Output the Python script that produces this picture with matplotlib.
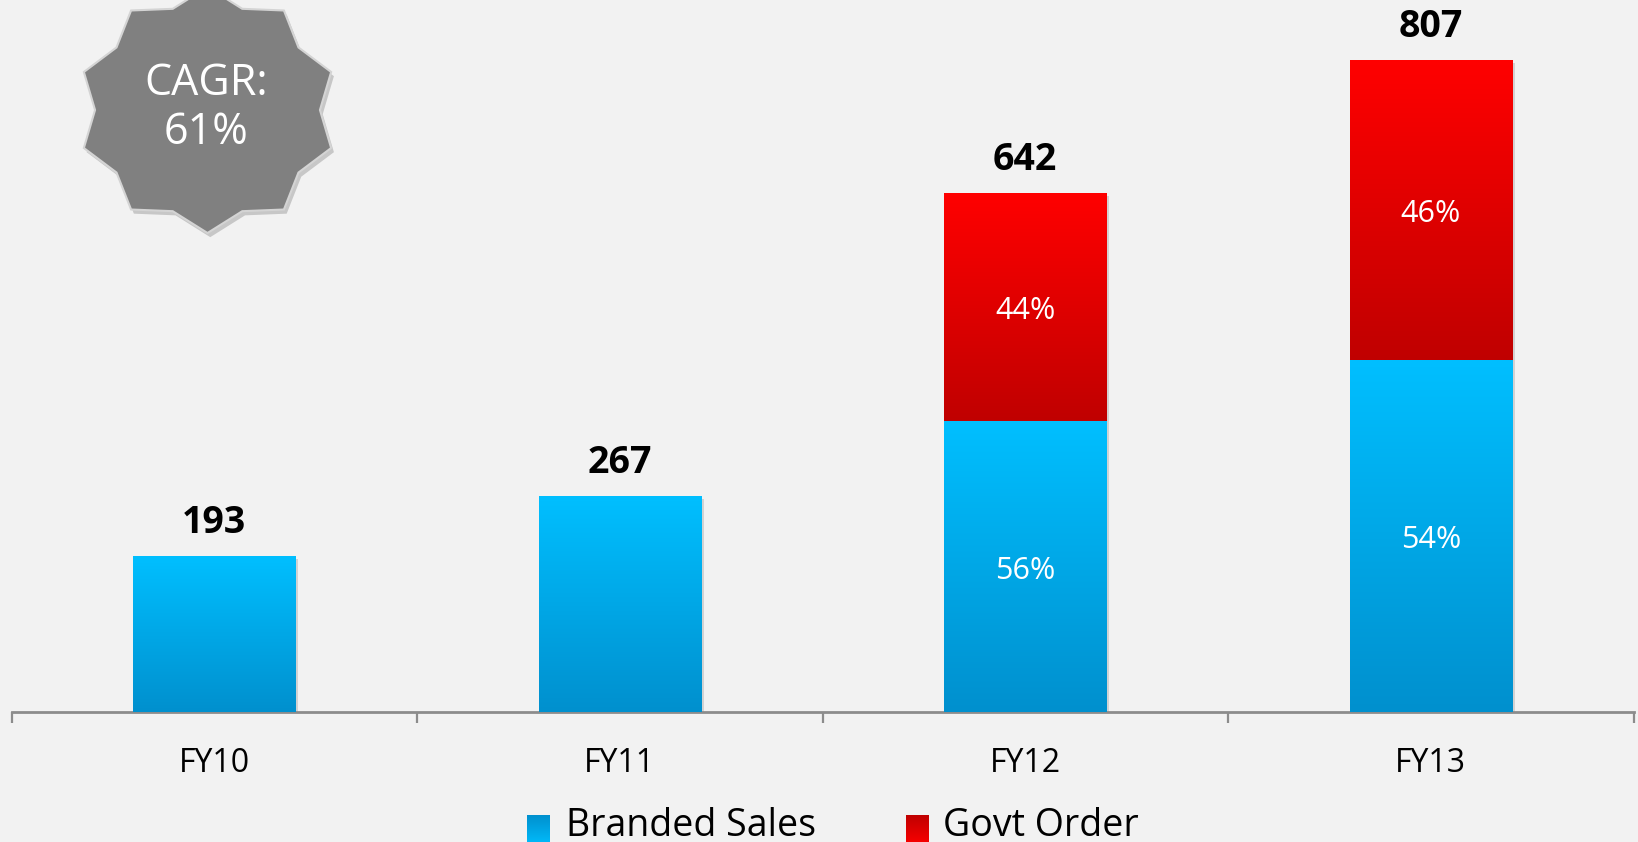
import numpy as np
import matplotlib
matplotlib.use("Agg")
import matplotlib.pyplot as plt
from matplotlib.colors import LinearSegmentedColormap
from matplotlib.patches import Polygon
import matplotlib.patheffects as pe
import matplotlib.transforms as mtransforms

# ---- data ----
categories = ["FY10", "FY11", "FY12", "FY13"]
totals = [193, 267, 642, 807]
branded = [193, 267, 359.5, 435.8]
govt = [0, 0, 282.5, 371.2]
branded_pct = ["", "", "56%", "54%"]
govt_pct = ["", "", "44%", "46%"]
series_names = ["Branded Sales", "Govt Order"]
badge_text = "CAGR:\n61%"

plt.rcParams['font.family'] = ['Open Sans', 'DejaVu Sans']

W, H = 1638, 842
DPI = 100
BG = "#F2F2F2"
fig = plt.figure(figsize=(W / DPI, H / DPI), dpi=DPI, facecolor=BG)

ax_left, ax_right, ax_bottom_px = 11.5, 1633.5, 712
ax = fig.add_axes([ax_left / W, (H - ax_bottom_px) / H, (ax_right - ax_left) / W, ax_bottom_px / H])
ax.set_facecolor(BG)
ax.set_xlim(-0.5, len(categories) - 0.5)
ax.set_ylim(0, 881)

blue_cmap = LinearSegmentedColormap.from_list("b", ["#0090CE", "#00BFFF"])
red_cmap = LinearSegmentedColormap.from_list("r", ["#C00000", "#FF0000"])
grad = np.linspace(0, 1, 256).reshape(-1, 1)

x = np.arange(len(categories))
width = 0.40
shadow = [pe.SimplePatchShadow(offset=(2, -2), shadow_rgbFace="#999999", alpha=0.35), pe.Normal()]

b1 = ax.bar(x, branded, width, color="#00AEEF", zorder=2)
b2 = ax.bar(x, govt, width, bottom=branded, color="#E00000", zorder=2)
for bars, cmap in ((b1, blue_cmap), (b2, red_cmap)):
    for p in bars:
        if p.get_height() <= 0:
            p.set_visible(False)
            continue
        p.set_path_effects(shadow)
        x0, y0 = p.get_x(), p.get_y()
        im = ax.imshow(grad, cmap=cmap, origin="lower", aspect="auto",
                       extent=[x0, x0 + p.get_width(), y0, y0 + p.get_height()],
                       zorder=3, interpolation="bilinear")
        im.set_clip_path(p)

# value labels
for xi, t in zip(x, totals):
    ax.annotate(f"{t}", (xi, t), xytext=(0, 16.5), textcoords="offset points",
                ha="center", va="baseline", fontsize=27, fontweight="bold", color="black", zorder=5)

# percent labels
for xi, b, g, bp, gp in zip(x, branded, govt, branded_pct, govt_pct):
    if bp:
        ax.annotate(bp, (xi, b / 2), xytext=(0, -3), textcoords="offset points",
                    ha="center", va="center", fontsize=22, color="white", zorder=5)
    if gp:
        ax.annotate(gp, (xi, b + g / 2), xytext=(0, -3), textcoords="offset points",
                    ha="center", va="center", fontsize=22, color="white", zorder=5)

# axes styling
for s in ["top", "right", "left"]:
    ax.spines[s].set_visible(False)
ax.spines["bottom"].set_color("#8C8C8C")
ax.spines["bottom"].set_linewidth(2)
ax.set_yticks([])
ax.set_xticks(np.arange(-0.5, len(categories)), minor=True)
ax.tick_params(axis="x", which="minor", length=8, width=1.6, color="#8C8C8C", direction="out")
ax.set_xticks(x)
ax.set_xticklabels([])
ax.tick_params(axis="x", which="major", length=0)
trans = ax.get_xaxis_transform() + mtransforms.ScaledTranslation(0, -60 / DPI, fig.dpi_scale_trans)
for xi, c in zip(x, categories):
    ax.text(xi, 0, c, transform=trans, ha="center", va="baseline", fontsize=23, color="black")

# overlay in pixel coordinates for badge and legend
ov = fig.add_axes([0, 0, 1, 1], zorder=10)
ov.axis("off")
ov.patch.set_alpha(0)

cx, cy, Rx, Ry, ratio = 207.5, 110, 130, 123, 0.865
pts = []
for k in range(10):
    a = np.deg2rad(90 + 36 * k)
    pts.append((cx + Rx * np.cos(a), cy - Ry * np.sin(a)))
    a2 = np.deg2rad(90 + 36 * k + 18)
    pts.append((cx + Rx * ratio * np.cos(a2), cy - Ry * ratio * np.sin(a2)))
star = Polygon(pts, closed=True, facecolor="#808080", edgecolor="#D4D4D4", linewidth=1.5, zorder=1)
star.set_path_effects([pe.SimplePatchShadow(offset=(2, -3), shadow_rgbFace="#777777", alpha=0.35), pe.Normal()])
ov.add_patch(star)
ov.text(206, 108, badge_text, ha="center", va="center", fontsize=31, color="white",
        linespacing=1.12, zorder=2)

# legend
leg_items = [(527, 566, blue_cmap, series_names[0]), (906, 943, red_cmap, series_names[1])]
for sx, tx, cmap, name in leg_items:
    ov.imshow(grad, cmap=cmap, origin="upper", aspect="auto",
              extent=[sx, sx + 23, 847, 815], zorder=2, interpolation="bilinear")
    ov.text(tx, 836, name, ha="left", va="baseline", fontsize=27, color="black", zorder=2)
ov.set_xlim(0, W)
ov.set_ylim(H, 0)

fig.savefig("out.png", dpi=DPI, facecolor=BG)
